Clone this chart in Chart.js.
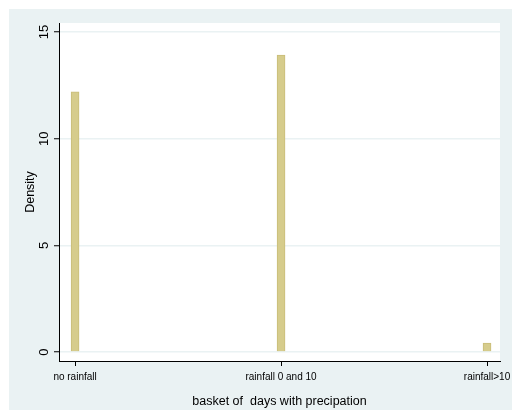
<!DOCTYPE html>
<html>
<head>
<meta charset="utf-8">
<script src="https://cdn.jsdelivr.net/npm/chart.js@4"></script>
<style>
html,body{margin:0;padding:0;background:#ffffff;}
#wrap{width:513px;height:411px;position:relative;}
</style>
</head>
<body>
<div id="wrap"><canvas id="c" width="513" height="411"></canvas></div>
<script>
// Data
const categories = ["no rainfall", "rainfall 0 and 10", "rainfall>10"];
const categoryPositions = [0, 1, 2];
const densityValues = [12.19, 13.92, 0.42];
const yTickValues = [0, 5, 10, 15];
const xTitle = "basket of  days with precipation";
const yTitle = "Density";

const BG = '#EAF2F3';
const FONT = "'Liberation Sans', Arial, Helvetica, sans-serif";

const bgPlugin = {
  id: 'bg',
  beforeDraw(chart) {
    const ctx = chart.ctx;
    const a = chart.chartArea;
    ctx.save();
    ctx.fillStyle = '#ffffff';
    ctx.fillRect(0, 0, chart.width, chart.height);
    ctx.fillStyle = BG;
    ctx.fillRect(9, 9, chart.width - 10, chart.height - 10);
    ctx.fillStyle = '#ffffff';
    ctx.fillRect(a.left, a.top, a.right - a.left, a.bottom - a.top);
    ctx.restore();
  }
};

const points = categoryPositions.map((x, i) => ({ x: x, y: densityValues[i] }));

new Chart(document.getElementById('c'), {
  type: 'bar',
  data: {
    datasets: [{
      data: points,
      backgroundColor: '#D6CC8C',
      borderColor: '#C9BD78',
      borderWidth: 1,
      barThickness: 8
    }]
  },
  options: {
    responsive: false,
    animation: false,
    devicePixelRatio: 1,
    layout: { padding: { left: 0, top: 23, right: 13, bottom: 0 } },
    plugins: { legend: { display: false }, tooltip: { enabled: false } },
    scales: {
      x: {
        type: 'linear',
        offset: false,
        min: -0.078,
        max: 2.063,
        afterBuildTicks(scale) { scale.ticks = categoryPositions.map(v => ({ value: v })); },
        afterFit(scale) { scale.height = 50; scale.paddingLeft = 0; scale.paddingRight = 0; },
        ticks: {
          autoSkip: false,
          maxRotation: 0,
          minRotation: 0,
          padding: 5,
          color: '#000000',
          font: { family: FONT, size: 10 },
          callback: (v) => { const i = categoryPositions.indexOf(v); return i >= 0 ? categories[i] : ''; }
        },
        grid: { display: true, offset: false, drawOnChartArea: false, drawTicks: true, tickLength: 5, tickColor: '#000000', tickWidth: 1 },
        border: { display: true, color: '#000000', width: 1 },
        title: {
          display: true,
          text: xTitle,
          color: '#000000',
          font: { family: FONT, size: 12.5 },
          padding: { top: 0, bottom: 1.5 }
        }
      },
      y: {
        type: 'linear',
        min: -0.42,
        max: 15.42,
        afterBuildTicks(scale) { scale.ticks = yTickValues.map(v => ({ value: v })); },
        afterFit(scale) { scale.width = 59; scale.paddingTop = 0; scale.paddingBottom = 0; },
        ticks: {
          autoSkip: false,
          minRotation: 90,
          maxRotation: 90,
          crossAlign: 'center',
          padding: 2,
          color: '#000000',
          font: { family: FONT, size: 13 }
        },
        grid: { display: true, drawOnChartArea: true, color: BG, lineWidth: 1.5, drawTicks: true, tickLength: 5, tickColor: '#000000', tickWidth: 1 },
        border: { display: true, color: '#000000', width: 1 },
        title: {
          display: true,
          text: yTitle,
          color: '#000000',
          font: { family: FONT, size: 12.5 },
          padding: { top: 23, bottom: 0 }
        }
      }
    }
  },
  plugins: [bgPlugin]
});
</script>
</body>
</html>
